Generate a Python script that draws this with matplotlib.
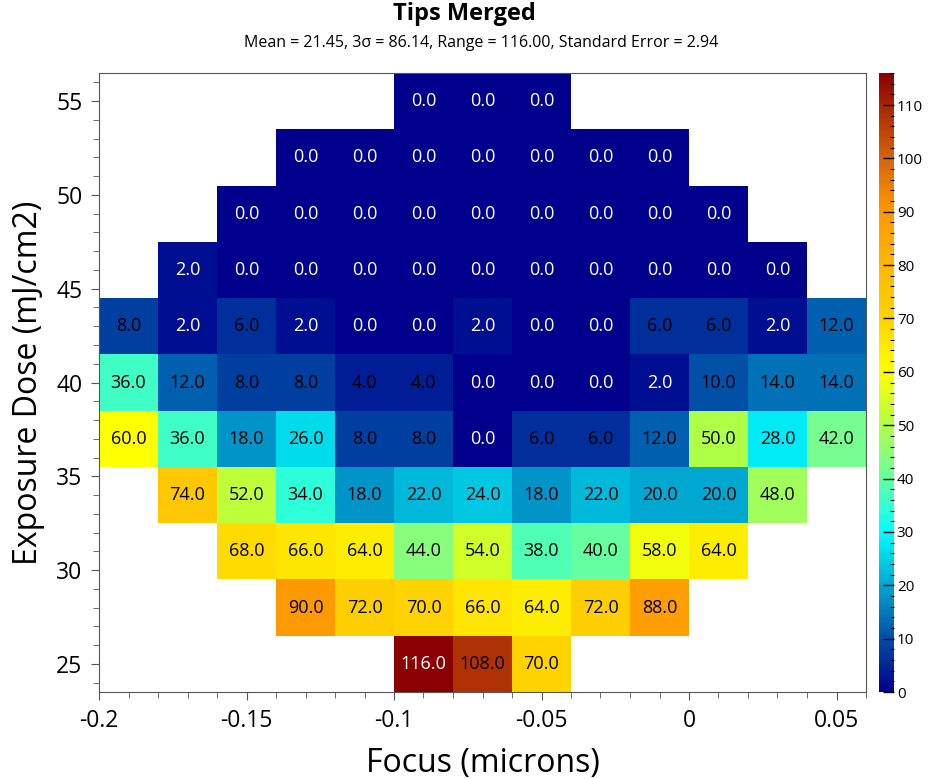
import numpy as np
import matplotlib
matplotlib.use("Agg")
import matplotlib.pyplot as plt
from matplotlib.colors import LinearSegmentedColormap
from matplotlib.ticker import MultipleLocator

plt.rcParams['font.family'] = ['Open Sans', 'DejaVu Sans']

focus = [-0.19, -0.17, -0.15, -0.13, -0.11, -0.09, -0.07, -0.05, -0.03, -0.01, 0.01, 0.03, 0.05]
dose = [25, 28, 31, 34, 37, 40, 43, 46, 49, 52, 55]
nan = np.nan
# rows follow dose (bottom to top), columns follow focus
tips = [
    [nan, nan, nan, nan, nan, 116, 108, 70, nan, nan, nan, nan, nan],
    [nan, nan, nan, 90, 72, 70, 66, 64, 72, 88, nan, nan, nan],
    [nan, nan, 68, 66, 64, 44, 54, 38, 40, 58, 64, nan, nan],
    [nan, 74, 52, 34, 18, 22, 24, 18, 22, 20, 20, 48, nan],
    [60, 36, 18, 26, 8, 8, 0, 6, 6, 12, 50, 28, 42],
    [36, 12, 8, 8, 4, 4, 0, 0, 0, 2, 10, 14, 14],
    [8, 2, 6, 2, 0, 0, 2, 0, 0, 6, 6, 2, 12],
    [nan, 2, 0, 0, 0, 0, 0, 0, 0, 0, 0, 0, nan],
    [nan, nan, 0, 0, 0, 0, 0, 0, 0, 0, 0, nan, nan],
    [nan, nan, nan, 0, 0, 0, 0, 0, 0, 0, nan, nan, nan],
    [nan, nan, nan, nan, nan, 0, 0, 0, nan, nan, nan, nan, nan],
]
subtitle = "Mean = 21.45, 3\u03c3 = 86.14, Range = 116.00, Standard Error = 2.94"

vmax = 116.0
stops = [
    (0, (0.0, 0.0, 0.55)),
    (8, (0.0, 0.25, 0.63)),
    (12, (0.0, 0.38, 0.69)),
    (20, (0.0, 0.66, 0.82)),
    (30, (0.0, 1.0, 1.0)),
    (36, (0.25, 1.0, 0.78)),
    (42, (0.47, 1.0, 0.56)),
    (50, (0.69, 1.0, 0.28)),
    (60, (1.0, 1.0, 0.0)),
    (70, (1.0, 0.83, 0.0)),
    (80, (1.0, 0.72, 0.0)),
    (90, (1.0, 0.60, 0.0)),
    (100, (0.84, 0.40, 0.04)),
    (116, (0.545, 0.0, 0.0)),
]
cmap = LinearSegmentedColormap.from_list("tips", [(v / vmax, c) for v, c in stops], N=256)

z = np.ma.masked_invalid(np.array(tips, dtype=float))
fx = np.array(focus)
dy = np.array(dose)
xe = np.concatenate([fx - 0.01, [fx[-1] + 0.01]])
ye = np.concatenate([dy - 1.5, [dy[-1] + 1.5]])

fig = plt.figure(figsize=(9.29, 7.79), dpi=100)
ax = fig.add_axes([99 / 929, 1 - 692 / 779, 767 / 929, 619 / 779])
cax = fig.add_axes([879 / 929, 1 - 692 / 779, 15 / 929, 619 / 779])

mesh = ax.pcolormesh(xe, ye, z, cmap=cmap, vmin=0, vmax=vmax)

for i, d in enumerate(dose):
    for j, f in enumerate(focus):
        v = tips[i][j]
        if np.isnan(v):
            continue
        col = 'white' if (v <= 2 or v >= 110) else 'black'
        ax.text(f, d, f"{v:.1f}", ha='center', va='center', fontsize=13, color=col)

ax.set_xlim(-0.2, 0.06)
ax.set_ylim(23.5, 56.5)
ax.xaxis.set_major_locator(MultipleLocator(0.05))
ax.xaxis.set_minor_locator(MultipleLocator(0.01))
ax.yaxis.set_major_locator(MultipleLocator(5))
ax.yaxis.set_minor_locator(MultipleLocator(1))
ax.set_xticks([-0.2, -0.15, -0.1, -0.05, 0, 0.05])
ax.set_xticklabels(['-0.2', '-0.15', '-0.1', '-0.05', '0', '0.05'])
ax.tick_params(which='major', length=6, color='#555555', labelsize=16.5, pad=6)
ax.tick_params(which='minor', length=4, color='#555555')
for s in ax.spines.values():
    s.set_color('#555555')

ax.set_xlabel('Focus (microns)', fontsize=23, labelpad=10)
ax.set_ylabel('Exposure Dose (mJ/cm2)', fontsize=23, labelpad=8)

cb = fig.colorbar(mesh, cax=cax)
cb.outline.set_visible(False)
cb.set_ticks(np.arange(0, 111, 10))
cax.yaxis.set_minor_locator(MultipleLocator(2))
cax.tick_params(which='major', direction='in', length=8, width=1, labelsize=11, pad=2)
cax.tick_params(which='minor', direction='in', length=3, width=0.8)

fig.text(0.5, 1 - 14 / 779, 'Tips Merged', ha='center', va='center', fontsize=17, fontweight='bold')
fig.text(0.518, 1 - 43 / 779, subtitle, ha='center', va='center', fontsize=11.5)

fig.savefig('out.png', dpi=100)
